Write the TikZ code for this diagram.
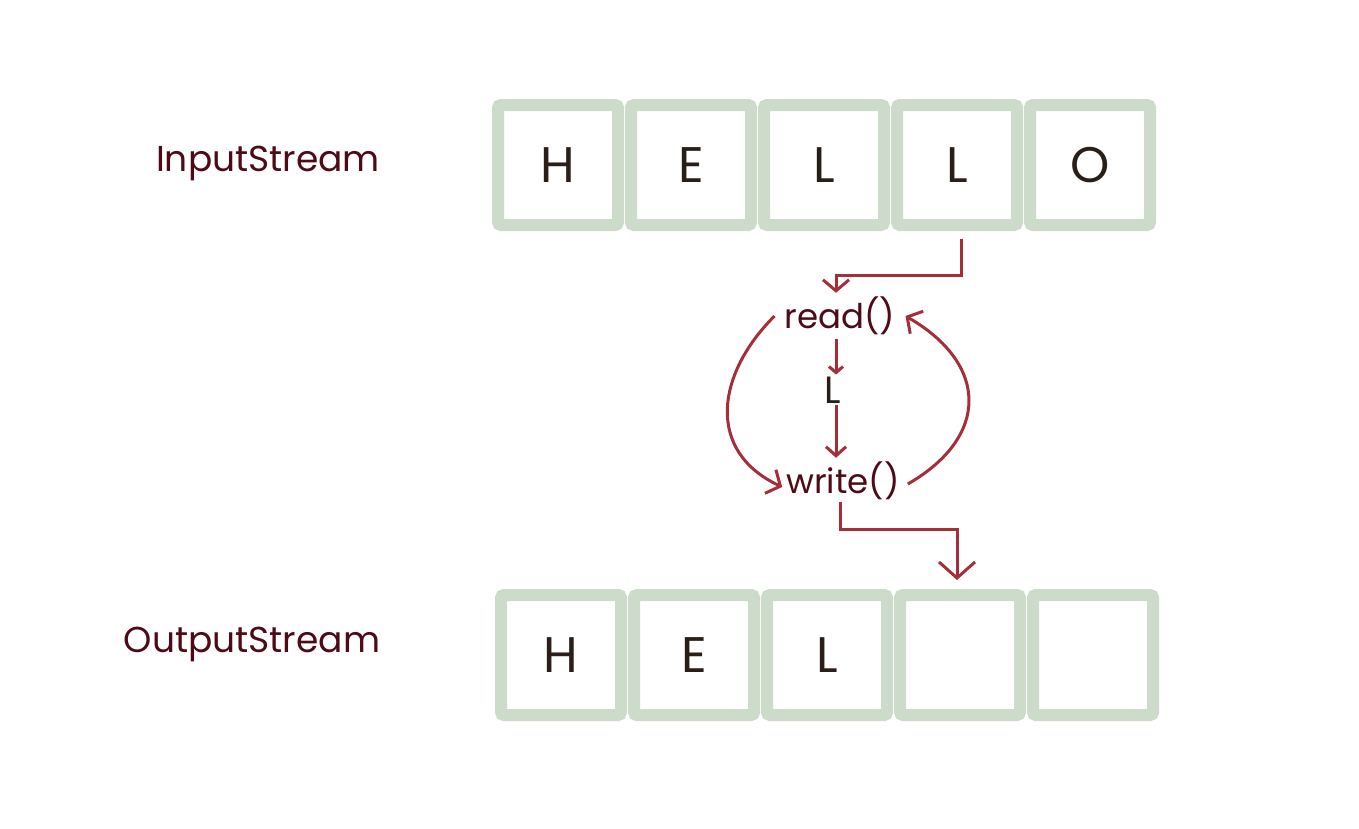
\documentclass[tikz,border=0pt]{standalone}
\usepackage{fontspec}
\setmainfont{Poppins}
\usetikzlibrary{arrows.meta, positioning}
\definecolor{cellgreen}{RGB}{205,219,203}
\definecolor{arrowred}{RGB}{166,46,56}
\definecolor{labelred}{RGB}{78,10,22}
\definecolor{inkbrown}{RGB}{42,30,24}
\tikzstyle{cell} = [rectangle, rounded corners=3pt, minimum width=120pt, minimum height=120pt, line width=12pt, draw=cellgreen, fill=white, text=inkbrown, font=\fontsize{50}{50}\selectfont]
\tikzstyle{stream} = [text=labelred, font=\fontsize{36}{42}\selectfont]
\tikzstyle{call} = [text=labelred, font=\fontsize{34}{40}\selectfont, inner sep=2pt]
\tikzstyle{arrow} = [line width=3pt, draw=arrowred, ->, >={Straight Barb[length=11pt,width=26pt]}]

\begin{document}
\begin{tikzpicture}[x=1pt, y=-1pt, node distance=133pt]
\useasboundingbox (0,0) rectangle (1359,828);
\node (in1) [cell] at (558,165) {H};
\node (in2) [cell, right of = in1] {E};
\node (in3) [cell, right of = in2] {L};
\node (in4) [cell, right of = in3] {L};
\node (in5) [cell, right of = in4] {O};
\node (out1) [cell] at (561,655) {H};
\node (out2) [cell, right of = out1] {E};
\node (out3) [cell, right of = out2] {L};
\node (out4) [cell, right of = out3] {};
\node (out5) [cell, right of = out4] {};
\node (instream) [stream] at (268,163) {InputStream};
\node (outstream) [stream] at (252,644) {OutputStream};
\node (rd) [call] at (840,316) {read()};
\node (ch) [call, text=inkbrown, font=\fontsize{38}{40}\selectfont] at (833,390) {L};
\node (wr) [call] at (843,481) {write()};
\draw [arrow] ([xshift=4pt, yshift=-8pt]in4.south) -- ++(0,36) -| ([xshift=-4pt, yshift=2pt]rd.north);
\draw [arrow, >={Straight Barb[length=6pt,width=14pt]}, shorten <=2pt] ([xshift=-4pt]rd.south) -- ([xshift=3pt]ch.north);
\draw [arrow, >={Straight Barb[length=9pt,width=20pt]}, shorten >=2pt] ([xshift=3pt]ch.south) -- ([xshift=-7pt]wr.north);
\draw [arrow] ([xshift=-8pt]rd.west) to[out=225, in=155, looseness=1.25] ([xshift=-2pt, yshift=-6pt]wr.west);
\draw [arrow] ([xshift=6pt, yshift=-3pt]wr.east) to[out=30, in=-30, looseness=1.45] ([xshift=8pt]rd.east);
\draw [arrow, >={Straight Barb[length=16pt,width=36pt]}, shorten >=9pt] ([xshift=-3pt]wr.south) -- ++(0,27) -| ([xshift=-3pt]out4.north);
\end{tikzpicture}
\end{document}
